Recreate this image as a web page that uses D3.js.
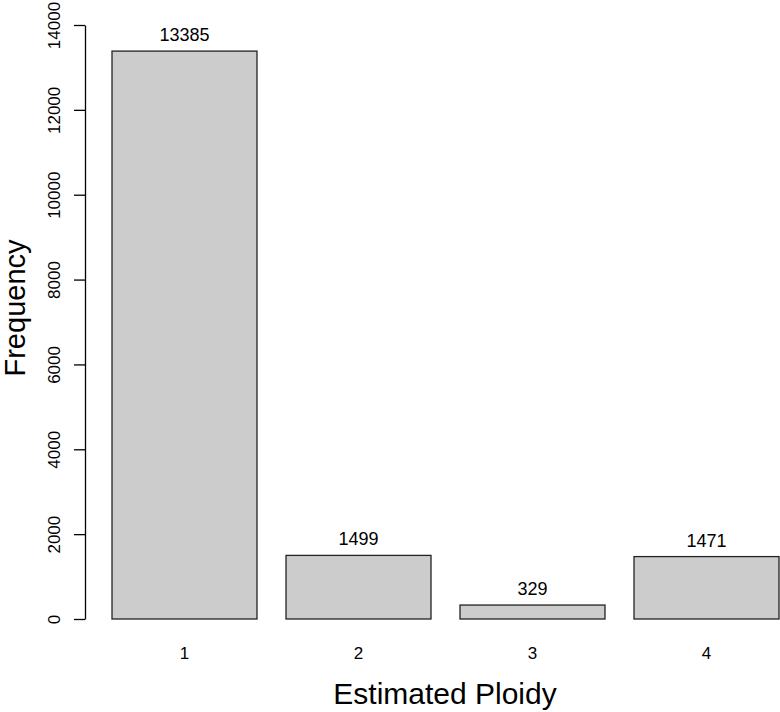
<!DOCTYPE html>
<html>
<head>
<meta charset="utf-8">
<script src="https://cdn.jsdelivr.net/npm/d3@7"></script>
<style>
  body { margin: 0; background: #fff; }
  text { font-family: "Liberation Sans", Arial, sans-serif; fill: #000; }
</style>
</head>
<body>
<svg id="chart" width="780" height="712"></svg>
<script>
// data
var categories = ["1", "2", "3", "4"];
var counts = [13385, 1499, 329, 1471];
var yTicks = [0, 2000, 4000, 6000, 8000, 10000, 12000, 14000];

var svg = d3.select("#chart");

// plot area
var x = d3.scaleBand()
  .domain(categories)
  .range([97.5, 793.5])
  .paddingInner(1 / 6)
  .paddingOuter(1 / 12);

var y = d3.scaleLinear()
  .domain([0, 14000])
  .range([619, 25]);

// bars
svg.selectAll("rect.bar")
  .data(counts)
  .enter()
  .append("rect")
  .attr("class", "bar")
  .attr("x", function(d, i) { return x(categories[i]); })
  .attr("y", function(d) { return y(d); })
  .attr("width", x.bandwidth())
  .attr("height", function(d) { return y(0) - y(d); })
  .attr("fill", "#cccccc")
  .attr("stroke", "#222")
  .attr("stroke-width", 1.3);

// value labels above bars
svg.selectAll("text.val")
  .data(counts)
  .enter()
  .append("text")
  .attr("class", "val")
  .attr("x", function(d, i) { return x(categories[i]) + x.bandwidth() / 2; })
  .attr("y", function(d) { return y(d) - 10; })
  .attr("text-anchor", "middle")
  .style("font-size", "18px")
  .text(function(d) { return d; });

// y axis, R style: rotated tick labels
var yAxis = svg.append("g")
  .attr("transform", "translate(85,0)")
  .call(d3.axisLeft(y).tickValues(yTicks).tickSize(11).tickSizeOuter(0).tickFormat(d3.format("d")));
yAxis.select(".domain").attr("stroke", "#000").attr("stroke-width", 1.3);
yAxis.selectAll(".tick line").attr("stroke", "#000").attr("stroke-width", 1.3);
yAxis.selectAll(".tick text")
  .attr("x", 0)
  .attr("dy", null)
  .attr("transform", "translate(-25,0) rotate(-90)")
  .attr("text-anchor", "middle")
  .style("font-size", "17px")
  .style("font-family", "'Liberation Sans', Arial, sans-serif");

// x category labels (no axis line, like barplot names)
svg.selectAll("text.cat")
  .data(categories)
  .enter()
  .append("text")
  .attr("class", "cat")
  .attr("x", function(d) { return x(d) + x.bandwidth() / 2; })
  .attr("y", 659)
  .attr("text-anchor", "middle")
  .style("font-size", "17px")
  .text(function(d) { return d; });

// axis titles
svg.append("text")
  .attr("x", 445)
  .attr("y", 704)
  .attr("text-anchor", "middle")
  .style("font-size", "30px")
  .text("Estimated Ploidy");

svg.append("text")
  .attr("transform", "translate(25,308) rotate(-90)")
  .attr("text-anchor", "middle")
  .style("font-size", "29px")
  .text("Frequency");
</script>
</body>
</html>
